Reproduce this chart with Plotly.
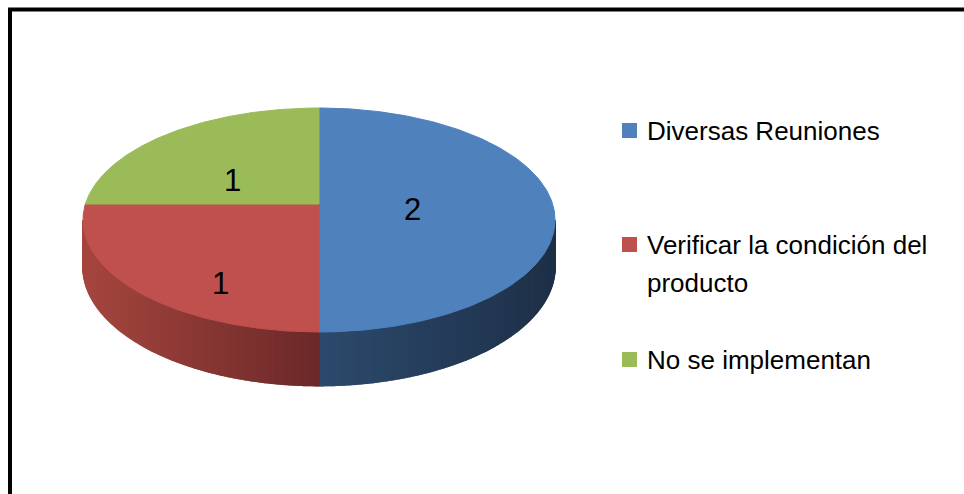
import textwrap
import numpy as np
import plotly.graph_objects as go

# ---- data -------------------------------------------------------------
categories = ["Diversas Reuniones", "Verificar la condición del producto", "No se implementan"]
values = [2, 1, 1]

# ---- styling ----------------------------------------------------------
top_colors = ["#4F81BD", "#C0504D", "#9BBB59"]
# side gradient (left colour, right colour) for each slice
side_colors = [("#2D4A6D", "#1E3048"), ("#A6463F", "#6B2928"), ("#7A9446", "#5C7034")]

W, H = 964, 494
FONT = "Liberation Sans, Arial, sans-serif"

# pie geometry in page pixels (tilted disc with mild perspective)
cx, cy = 319, 204
R, B, DEPTH, K = 233.6, 109.7, 46.0, 1 / 7


def proj(r, phi, z=0.0):
    """Project a point of the disc (radius r, clockwise angle phi from the back)."""
    u = r * np.sin(phi)
    v = -r * np.cos(phi)
    s = 1.0 / (1.0 - K * v)
    return cx + R * u * s, cy + (B * v + DEPTH * z) * s


def hex_rgb(c):
    c = c.lstrip("#")
    return np.array([int(c[i:i + 2], 16) for i in (0, 2, 4)], dtype=float)


def mix(c0, c1, t):
    a, b = hex_rgb(c0), hex_rgb(c1)
    r, g, bl = (a + (b - a) * t).round().astype(int)
    return f"rgb({r},{g},{bl})"


vals = np.array(values, dtype=float)
bounds = np.concatenate([[0.0], np.cumsum(vals / vals.sum()) * 2 * np.pi])

fig = go.Figure()

# ---- side walls (only the front half of the rim is visible) ----------
phi_lo = np.arccos(-K)
phi_hi = 2 * np.pi - phi_lo
for i in range(len(values)):
    a0, a1 = max(bounds[i], phi_lo), min(bounds[i + 1], phi_hi)
    if a1 <= a0:
        continue
    edges = np.linspace(a0, a1, 180)
    xs_all = proj(1.0, edges)[0]
    xmin, xmax = xs_all.min(), xs_all.max()
    for j in range(len(edges) - 1):
        ph = np.linspace(edges[j], edges[j + 1], 3)
        tx, ty = proj(1.0, ph, 0.0)
        bx, by = proj(1.0, ph[::-1], 1.0)
        xm = 0.5 * (tx[0] + tx[-1])
        col = mix(side_colors[i][0], side_colors[i][1], (xm - xmin) / max(xmax - xmin, 1e-9))
        fig.add_trace(go.Scatter(
            x=np.concatenate([tx, bx, tx[:1]]), y=np.concatenate([ty, by, ty[:1]]),
            mode="lines", fill="toself", fillcolor=col,
            line=dict(color=col, width=1.5), hoverinfo="skip", showlegend=False))

# ---- top faces --------------------------------------------------------
for i in range(len(values)):
    ph = np.linspace(bounds[i], bounds[i + 1], 200)
    ax, ay = proj(1.0, ph)
    x0, y0 = proj(0.0, 0.0)
    fig.add_trace(go.Scatter(
        x=np.concatenate([[x0], ax, [x0]]), y=np.concatenate([[y0], ay, [y0]]),
        mode="lines", fill="toself", fillcolor=top_colors[i],
        line=dict(color=top_colors[i], width=1), hoverinfo="skip", showlegend=False))

# ---- data labels ------------------------------------------------------
label_xy = [(412, 209), (220, 283), (232, 180)]
for v, (lx, ly) in zip(values, label_xy):
    fig.add_annotation(x=lx, y=ly, text=str(v), showarrow=False,
                       font=dict(family=FONT, size=31, color="black"),
                       xanchor="center", yanchor="middle")

# ---- legend -----------------------------------------------------------
legend_y = [131, 245, 360]
line_gap = 38
for name, col, ly in zip(categories, top_colors, legend_y):
    fig.add_shape(type="rect", x0=622, x1=637, y0=ly - 8, y1=ly + 7,
                  xref="x", yref="y", fillcolor=col, line=dict(width=0))
    for n, line in enumerate(textwrap.wrap(name, 26)):
        fig.add_annotation(x=645, y=ly + n * line_gap, text=line, showarrow=False,
                           font=dict(family=FONT, size=26, color="black"),
                           xanchor="left", yanchor="middle")

# ---- chart frame ------------------------------------------------------
fig.add_shape(type="rect", x0=10, y0=9.5, x1=1010, y1=560, xref="x", yref="y",
              line=dict(color="black", width=4), fillcolor="rgba(0,0,0,0)")

fig.update_layout(
    width=W, height=H, margin=dict(l=0, r=0, t=0, b=0),
    paper_bgcolor="white", plot_bgcolor="white", showlegend=False,
    xaxis=dict(range=[0, W], visible=False, fixedrange=True),
    yaxis=dict(range=[H, 0], visible=False, fixedrange=True),
)

fig.write_html("out.html")
